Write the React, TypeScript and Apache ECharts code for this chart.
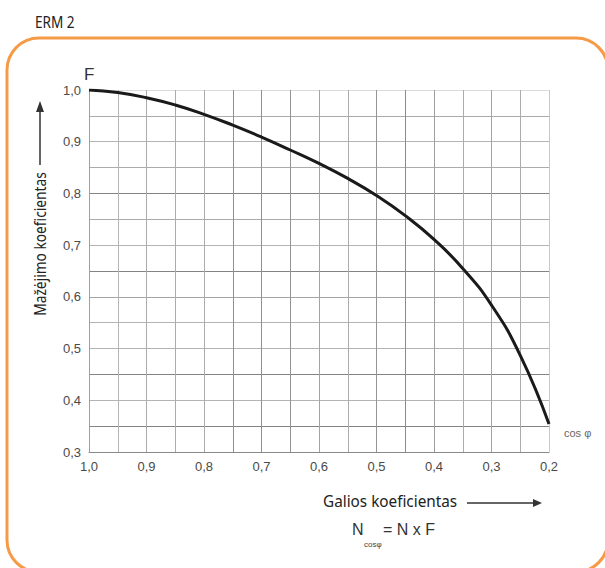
import React, { useEffect, useRef } from "react";
import * as echarts from "echarts";

const cosPhi = [1.0, 0.95, 0.9, 0.85, 0.8, 0.75, 0.7, 0.65, 0.6, 0.55, 0.5, 0.45, 0.4, 0.35, 0.3, 0.25, 0.2];
const factorF = [1.0, 0.995, 0.985, 0.971, 0.953, 0.932, 0.909, 0.884, 0.858, 0.829, 0.796, 0.757, 0.711, 0.655, 0.584, 0.487, 0.354];

const xTickLabels = ["1,0", "0,9", "0,8", "0,7", "0,6", "0,5", "0,4", "0,3", "0,2"];
const yTickLabels = ["0,3", "0,4", "0,5", "0,6", "0,7", "0,8", "0,9", "1,0"];

const title = "ERM 2";
const yName = "Mažėjimo koeficientas";
const xName = "Galios koeficientas";

const fmt = (v: number) => {
  const k = Math.round(v * 100);
  if (k % 10 !== 0) return "";
  return (k / 100).toFixed(1).replace(".", ",");
};

export default function App() {
  const ref = useRef<HTMLDivElement>(null);
  useEffect(() => {
    if (!ref.current) return;
    const chart = echarts.init(ref.current, undefined, { renderer: "svg" });
    const data = cosPhi.map((c, i) => [c, factorF[i]]);
    const labelFont = "'Liberation Sans', Arial, sans-serif";
    const condFont = "'Noto Sans', sans-serif";
    chart.setOption({
      animation: false,
      backgroundColor: "#ffffff",
      grid: { left: 89, right: 56, top: 90, bottom: 116, containLabel: false },
      xAxis: {
        type: "value",
        inverse: true,
        min: 0.2,
        max: 1.0,
        interval: 0.05,
        axisLine: { show: true, lineStyle: { color: "#8a8a8a", width: 1 } },
        axisTick: { show: false },
        axisLabel: {
          formatter: (v: number) => {
            const s = fmt(v);
            return xTickLabels.includes(s) ? s : "";
          },
          color: "#4a4a4a",
          fontFamily: labelFont,
          fontSize: 13,
          margin: 8,
        },
        splitLine: {
          show: true,
          lineStyle: {
            color: ["#c8c8c8", "#ababab", "#a4a4a4", "#ababab", "#9e9e9e", "#8c8c8c", "#949494", "#ababab", "#a4a4a4", "#949494", "#909090", "#909090", "#ababab", "#ababab", "#ababab", "#b4b4b4", "#d4d4d4"],
            width: 1,
          },
        },
      },
      yAxis: {
        type: "value",
        min: 0.3,
        max: 1.0,
        interval: 0.05,
        axisLine: { show: true, lineStyle: { color: "#a0a0a0", width: 1 } },
        axisTick: { show: false },
        axisLabel: {
          formatter: (v: number) => {
            const s = fmt(v);
            return yTickLabels.includes(s) ? s : "";
          },
          color: "#4a4a4a",
          fontFamily: labelFont,
          fontSize: 13,
          margin: 8,
        },
        splitLine: {
          show: true,
          lineStyle: {
            color: ["#8a8a8a", "#848484", "#b4b4b4", "#848484", "#b4b4b4", "#b4b4b4", "#a4a4a4", "#848484", "#b4b4b4", "#ababab", "#848484", "#ababab", "#b4b4b4", "#ababab", "#dcdcdc"],
            width: 1,
          },
        },
      },
      series: [
        {
          type: "line",
          data,
          smooth: 0.5,
          showSymbol: false,
          lineStyle: { color: "#1a1a1a", width: 3 },
          z: 5,
        },
      ],
      graphic: [
        {
          type: "rect",
          shape: { x: 7, y: 38, width: 601, height: 534, r: 32 },
          style: { fill: "none", stroke: "#F59B47", lineWidth: 3 },
          silent: true,
        },
        {
          type: "text",
          x: 35,
          y: 22,
          scaleX: 0.85,
          style: { text: title, font: `16px ${condFont}`, fill: "#222", verticalAlign: "middle", align: "left" },
        },
        {
          type: "text",
          x: 84,
          y: 74,
          style: { text: "F", font: `17px ${labelFont}`, fill: "#333", verticalAlign: "middle", align: "left" },
        },
        {
          type: "text",
          x: 40,
          y: 244,
          rotation: Math.PI / 2,
          scaleX: 0.86,
          style: { text: yName, font: `16px ${condFont}`, fill: "#222", verticalAlign: "middle", align: "center" },
        },
        { type: "line", shape: { x1: 40, y1: 165, x2: 40, y2: 110 }, style: { stroke: "#333", lineWidth: 1.5 } },
        { type: "polygon", shape: { points: [[36, 112], [40, 101], [44, 112]] }, style: { fill: "#333" } },
        {
          type: "text",
          x: 564,
          y: 433,
          style: { text: "cos φ", font: `11px ${labelFont}`, fill: "#666", verticalAlign: "middle", align: "left" },
        },
        {
          type: "text",
          x: 323,
          y: 501,
          scaleX: 0.9,
          style: { text: xName, font: `17px ${condFont}`, fill: "#222", verticalAlign: "middle", align: "left" },
        },
        { type: "line", shape: { x1: 467, y1: 503, x2: 535, y2: 503 }, style: { stroke: "#333", lineWidth: 1.5 } },
        { type: "polygon", shape: { points: [[533, 499], [542, 503], [533, 507]] }, style: { fill: "#333" } },
        {
          type: "text",
          x: 352,
          y: 537,
          style: { text: "N", font: `16px ${labelFont}`, fill: "#333", verticalAlign: "bottom", align: "left" },
        },
        {
          type: "text",
          x: 364,
          y: 548,
          style: { text: "cosφ", font: `8px ${labelFont}`, fill: "#444", verticalAlign: "bottom", align: "left" },
        },
        {
          type: "text",
          x: 383,
          y: 537,
          style: { text: "= N x F", font: `16px ${labelFont}`, fill: "#333", verticalAlign: "bottom", align: "left" },
        },
      ],
    });
    return () => chart.dispose();
  }, []);
  return (
    <div
      ref={ref}
      style={{ position: "absolute", left: 0, top: 0, width: 605, height: 568 }}
    />
  );
}
